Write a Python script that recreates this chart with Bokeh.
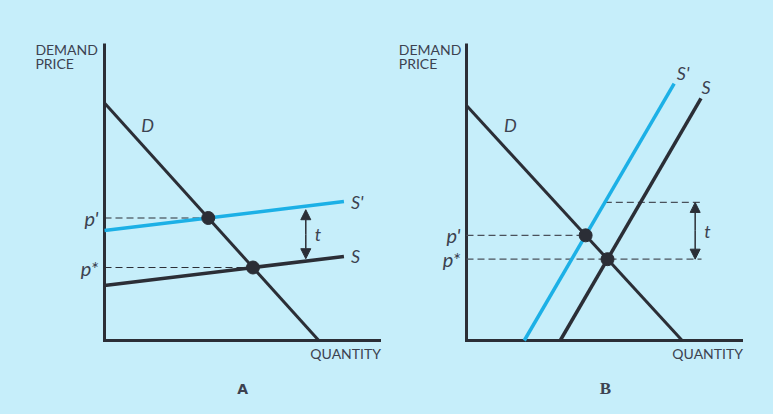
from bokeh.plotting import figure
from bokeh.layouts import row
from bokeh.models import Arrow, NormalHead, Range1d
from bokeh.core.properties import value
from bokeh.embed import file_html
from bokeh.resources import INLINE

# ---------------- data (quantity, price units) ----------------
AXIS_MAX = [10.0, 10.0]          # x-axis length, y-axis length

# Panel A: elastic (flat) supply
A_D_q = [0.0, 7.75];   A_D_p = [8.0, 0.0]
A_S_q = [0.0, 8.66];   A_S_p = [1.85, 2.83]
A_Sp_q = [0.0, 8.66];  A_Sp_p = [3.70, 4.68]
A_arrow_q = 7.28

# Panel B: steep supply
B_D_q = [0.0, 7.80];   B_D_p = [7.91, 0.0]
B_S_q = [3.39, 8.48];  B_S_p = [0.0, 8.15]
B_Sp_q = [2.09, 7.51]; B_Sp_p = [0.0, 8.65]
B_tax = 1.91
B_arrow_q = 8.27
B_dash_end = 8.5

AXIS_LABELS = ["DEMAND", "PRICE", "QUANTITY"]
PANEL_LABELS = ["A", "B"]

# ---------------- style ----------------
BG = "#c6eefa"
DARK = "#2b2e36"
BLUE = "#1cb0e6"
TXT = "#3c4250"
SANS = "Lato"
PX_X = 27.65
PX_Y = 29.7
H = 410
BOTTOM_PX = H - 340


def line_at(qs, ps, q):
    return ps[0] + (ps[1] - ps[0]) * (q - qs[0]) / (qs[1] - qs[0])


def q_at(qs, ps, p):
    return qs[0] + (qs[1] - qs[0]) * (p - ps[0]) / (ps[1] - ps[0])


def intersect(q1, p1, q2, p2):
    m1 = (p1[1] - p1[0]) / (q1[1] - q1[0]); b1 = p1[0] - m1 * q1[0]
    m2 = (p2[1] - p2[0]) / (q2[1] - q2[0]); b2 = p2[0] - m2 * q2[0]
    q = (b2 - b1) / (m1 - m2)
    return q, m1 * q + b1


def make_fig(width, left_px):
    x0 = -left_px / PX_X
    y0 = -BOTTOM_PX / PX_Y
    p = figure(width=width, height=H, output_backend="svg", toolbar_location=None,
               x_axis_type=None, y_axis_type=None, min_border=0,
               x_range=Range1d(x0, x0 + width / PX_X),
               y_range=Range1d(y0, y0 + H / PX_Y))
    p.grid.visible = False
    p.outline_line_color = None
    p.background_fill_color = BG
    p.border_fill_color = BG
    # axes
    p.line([0, 0, AXIS_MAX[0]], [AXIS_MAX[1], 0, 0], line_color=DARK, line_width=3,
           line_join="miter")
    return p


def common_text(p, demand_x):
    kw = dict(text_font=value(SANS), text_font_size="14px", text_color=TXT)
    p.text([demand_x], [9.80], text=[AXIS_LABELS[0]], text_align="left",
           text_baseline="middle", **kw)
    p.text([demand_x], [9.33], text=[AXIS_LABELS[1]], text_align="left",
           text_baseline="middle", **kw)
    p.text([AXIS_MAX[0]], [-0.44], text=[AXIS_LABELS[2]], text_align="right",
           text_baseline="middle", **kw)


def ital(p, x, y, s, xo=0, yo=0, align="left", size="18px"):
    p.text([x], [y], text=[s], text_font=value(SANS), text_font_style="italic",
           text_font_size=size, text_color=TXT, text_align=align,
           text_baseline="middle", x_offset=xo, y_offset=yo)


def double_arrow(p, q, y_low, y_high):
    mid = (y_low + y_high) / 2
    for y_end in (y_high, y_low):
        p.add_layout(Arrow(x_start=q, y_start=mid, x_end=q, y_end=y_end,
                           line_color=DARK, line_width=1.5,
                           end=NormalHead(size=10, fill_color=DARK, line_color=DARK)))


# ---------------- Panel A ----------------
pa = make_fig(386, 104)
qa1, pa1 = intersect(A_Sp_q, A_Sp_p, A_D_q, A_D_p)   # p'
qa0, pa0 = intersect(A_S_q, A_S_p, A_D_q, A_D_p)     # p*
pa.line([0, qa1], [pa1, pa1], line_color=DARK, line_width=1.2, line_dash="7 4")
pa.line([0, qa0], [pa0, pa0], line_color=DARK, line_width=1.2, line_dash="7 4")
pa.line(A_Sp_q, A_Sp_p, line_color=BLUE, line_width=3.5)
pa.line(A_S_q, A_S_p, line_color=DARK, line_width=3.5)
pa.line(A_D_q, A_D_p, line_color=DARK, line_width=3)
pa.scatter([qa1, qa0], [pa1, pa0], size=13, color=DARK)
ya_top = line_at(A_Sp_q, A_Sp_p, A_arrow_q) - 0.12
ya_bot = line_at(A_S_q, A_S_p, A_arrow_q) + 0.08
double_arrow(pa, A_arrow_q, ya_bot, ya_top)
common_text(pa, -2.5)
pa.text([5.0], [-1.62], text=[PANEL_LABELS[0]], text_font=value("DejaVu Sans"),
        text_font_style="bold", text_font_size="14px", text_color=TXT,
        text_align="center", text_baseline="middle")
ital(pa, 1.56, 7.27, "D", align="center")
ital(pa, A_Sp_q[1], A_Sp_p[1], "S'", xo=7)
ital(pa, A_S_q[1], A_S_p[1], "S", xo=7)
ital(pa, A_arrow_q, (ya_top + ya_bot) / 2, "t", xo=9)
ital(pa, 0, pa1, "p'", xo=-6, align="right", size="20px")
ital(pa, 0, pa0, "p*", xo=-6, align="right", size="20px")

# ---------------- Panel B ----------------
pb = make_fig(386, 80)
qb1, pb1 = intersect(B_Sp_q, B_Sp_p, B_D_q, B_D_p)   # p'
qb0, pb0 = intersect(B_S_q, B_S_p, B_D_q, B_D_p)     # p*
ptop = pb0 + B_tax
q_top = q_at(B_Sp_q, B_Sp_p, ptop)
DASHB = "#4a515b"
pb.line([0, qb1], [pb1, pb1], line_color=DASHB, line_width=1.2, line_dash="7 4")
pb.line([0, B_dash_end], [pb0, pb0], line_color=DASHB, line_width=1.2, line_dash="7 4")
pb.line([q_top, B_dash_end], [ptop, ptop], line_color=DASHB, line_width=1.2, line_dash="7 4")
pb.line(B_Sp_q, B_Sp_p, line_color=BLUE, line_width=3.5)
pb.line(B_S_q, B_S_p, line_color=DARK, line_width=3.5)
pb.line(B_D_q, B_D_p, line_color=DARK, line_width=3)
pb.scatter([qb1, qb0], [pb1, pb0], size=13, color=DARK)
double_arrow(pb, B_arrow_q, pb0, ptop)
common_text(pb, -2.45)
pb.text([5.02], [-1.62], text=[PANEL_LABELS[1]], text_font=value("Liberation Serif"),
        text_font_style="bold", text_font_size="17px", text_color=TXT,
        text_align="center", text_baseline="middle")
ital(pb, 1.59, 7.27, "D", align="center")
ital(pb, B_Sp_q[1], B_Sp_p[1], "S'", xo=9, yo=-11, align="center")
ital(pb, B_S_q[1], B_S_p[1], "S", xo=5, yo=-11, align="center")
ital(pb, B_arrow_q, (ptop + pb0) / 2, "t", xo=9)
ital(pb, 0, pb1, "p'", xo=-6, align="right", size="20px")
ital(pb, 0, pb0, "p*", xo=-6, align="right", size="20px")

layout = row(pa, pb)
html = file_html(layout, INLINE)
html = html.replace("</head>", "<style>html,body{background:%s;}</style></head>" % BG, 1)
open("out.html", "w").write(html)
